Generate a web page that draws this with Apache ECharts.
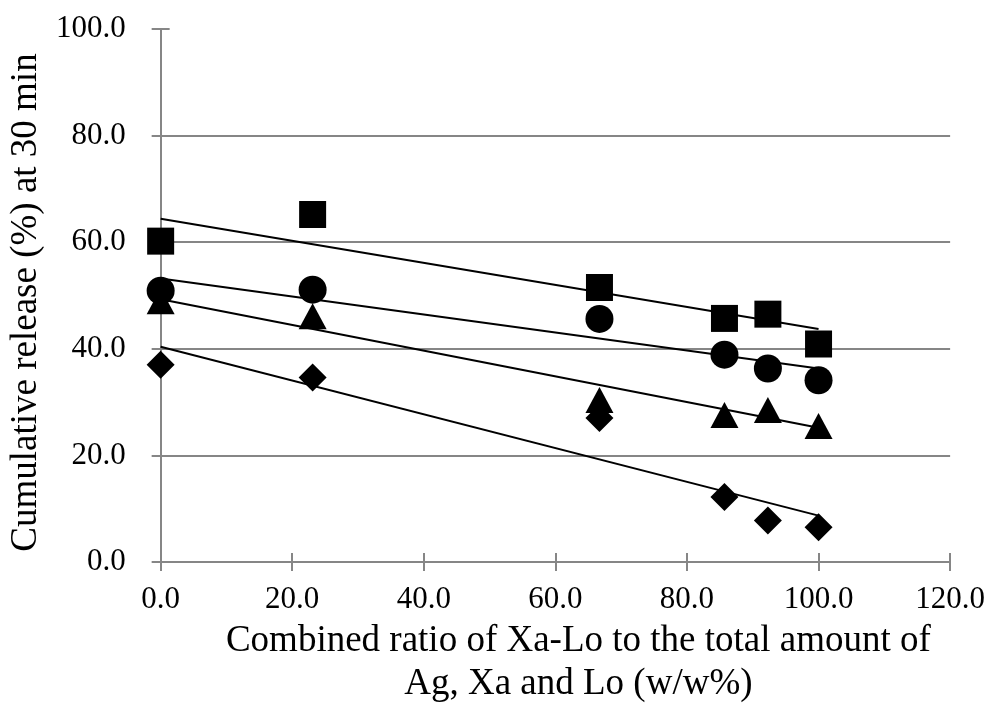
<!DOCTYPE html>
<html>
<head>
<meta charset="utf-8">
<script src="https://cdn.jsdelivr.net/npm/echarts@6/dist/echarts.min.js"></script>
<style>
  html, body { margin: 0; padding: 0; background: #fff; }
  #chart { width: 988px; height: 711px; }
</style>
</head>
<body>
<div id="chart"></div>
<script>
// x positions (combined ratio, w/w%)
const ratio = [0, 23.1, 66.7, 85.7, 92.3, 100]

// cumulative release (%) at 30 min, one array per marker type
const squareVals = [60.2, 65.2, 51.5, 45.7, 46.5, 40.9]
const circleVals = [50.9, 51.1, 45.6, 38.9, 36.3, 34.1]
const triangleVals = [48.9, 46.1, 30.4, 27.6, 28.5, 25.5]
const diamondVals = [37.0, 34.6, 27.0, 12.2, 7.8, 6.5]

// linear trendlines, end values at x = 0 and x = 100
const trendX = [0, 100]
const squareTrend = [64.4, 43.7]
const circleTrend = [53.2, 36.3]
const triangleTrend = [49.3, 25.2]
const diamondTrend = [40.4, 8.7]

const xTicks = [0, 20, 40, 60, 80, 100, 120]
const yTicks = [0, 20, 40, 60, 80, 100]

const axisGrey = '#868686'
const font = '"Liberation Serif", "Times New Roman", serif'

function pts(xs, ys) {
  return xs.map((x, i) => [x, ys[i]])
}

function markerSeries(name, symbol, size, vals) {
  return {
    name: name,
    type: 'scatter',
    symbol: symbol,
    symbolSize: size,
    itemStyle: { color: '#000', opacity: 1 },
    data: pts(ratio, vals),
    z: 3,
  }
}

function trendSeries(vals) {
  return {
    type: 'line',
    data: pts(trendX, vals),
    symbol: 'none',
    lineStyle: { color: '#000', width: 2 },
    silent: true,
    z: 4,
  }
}

const chart = echarts.init(document.getElementById('chart'))
const option = {
  animation: false,
  backgroundColor: '#fff',
  grid: { left: 156, right: 36, top: 29, bottom: 142 },
  xAxis: [
    {
      type: 'value',
      position: 'bottom',
      min: xTicks[0],
      max: xTicks[xTicks.length - 1],
      interval: 20,
      name: 'Combined ratio of Xa-Lo to the total amount of\nAg, Xa and Lo (w/w%)',
      nameLocation: 'middle',
      nameGap: 58,
      nameTextStyle: {
        fontFamily: font, fontSize: 37, color: '#000',
        lineHeight: 43, padding: [0, 0, 0, 46],
      },
      axisLine: { show: true, lineStyle: { color: axisGrey, width: 2 } },
      axisTick: { show: true, length: 9, lineStyle: { color: axisGrey, width: 2 } },
      axisLabel: {
        fontFamily: font, fontSize: 31, color: '#000', margin: 22,
        formatter: v => v.toFixed(1),
      },
      splitLine: { show: false },
    },
    {
      // inner half of the crossing tick marks
      type: 'value',
      position: 'bottom',
      min: xTicks[0],
      max: xTicks[xTicks.length - 1],
      interval: 20,
      axisLine: { show: false },
      axisTick: { show: true, inside: true, length: 9, lineStyle: { color: axisGrey, width: 2 } },
      axisLabel: { show: false },
      splitLine: { show: false },
    },
  ],
  yAxis: [
    {
      type: 'value',
      min: yTicks[0],
      max: yTicks[yTicks.length - 1],
      interval: 20,
      name: 'Cumulative release (%) at 30 min',
      nameLocation: 'middle',
      nameGap: 108,
      nameTextStyle: {
        fontFamily: font, fontSize: 37, color: '#000',
        padding: [0, 14, 0, 0],
      },
      axisLine: { show: true, lineStyle: { color: axisGrey, width: 2 } },
      axisTick: { show: true, length: 9, lineStyle: { color: axisGrey, width: 2 } },
      axisLabel: {
        fontFamily: font, fontSize: 31, color: '#000', margin: 35,
        formatter: v => v.toFixed(1),
      },
      splitLine: {
        show: true,
        lineStyle: {
          color: [axisGrey, axisGrey, axisGrey, axisGrey, axisGrey, 'rgba(0,0,0,0)'],
          width: 2,
        },
      },
    },
    {
      type: 'value',
      position: 'left',
      min: yTicks[0],
      max: yTicks[yTicks.length - 1],
      interval: 20,
      axisLine: { show: false },
      axisTick: { show: true, inside: true, length: 9, lineStyle: { color: axisGrey, width: 2 } },
      axisLabel: { show: false },
      splitLine: { show: false },
    },
  ],
  series: [
    markerSeries('diamond', 'diamond', [28, 28], diamondVals),
    markerSeries('triangle', 'triangle', [28, 26], triangleVals),
    markerSeries('circle', 'circle', 28, circleVals),
    markerSeries('square', 'rect', 27, squareVals),
    trendSeries(diamondTrend),
    trendSeries(triangleTrend),
    trendSeries(circleTrend),
    trendSeries(squareTrend),
  ],
}
chart.setOption(option)
</script>
</body>
</html>
